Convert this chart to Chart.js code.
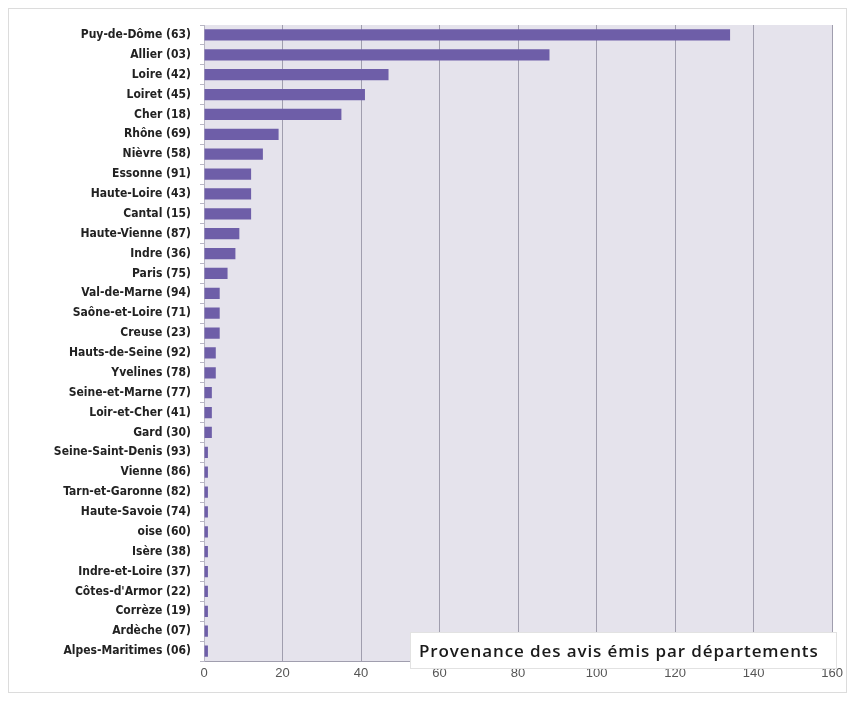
<!DOCTYPE html>
<html lang="fr">
<head>
  <meta charset="UTF-8" />
  <title>Provenance des avis émis par départements</title>
  <script src="https://cdn.jsdelivr.net/npm/chart.js"></script>
  <style>
    body { margin: 0; background: #fff; }
    #wrap { width: 848px; height: 704px; }
  </style>
</head>
<body>
  <div id="wrap"><canvas id="chart" width="848" height="704"></canvas></div>

  <script>
    const departements = [
      'Puy-de-Dôme (63)', 'Allier (03)', 'Loire (42)', 'Loiret (45)', 'Cher (18)',
      'Rhône (69)', 'Nièvre (58)', 'Essonne (91)', 'Haute-Loire (43)', 'Cantal (15)',
      'Haute-Vienne (87)', 'Indre (36)', 'Paris (75)', 'Val-de-Marne (94)', 'Saône-et-Loire (71)',
      'Creuse (23)', 'Hauts-de-Seine (92)', 'Yvelines (78)', 'Seine-et-Marne (77)', 'Loir-et-Cher (41)',
      'Gard (30)', 'Seine-Saint-Denis (93)', 'Vienne (86)', 'Tarn-et-Garonne (82)', 'Haute-Savoie (74)',
      'oise (60)', 'Isère (38)', 'Indre-et-Loire (37)', "Côtes-d'Armor (22)", 'Corrèze (19)',
      'Ardèche (07)', 'Alpes-Maritimes (06)'
    ];
    const avis = [
      134, 88, 47, 41, 35,
      19, 15, 12, 12, 12,
      9, 8, 6, 4, 4,
      4, 3, 3, 2, 2,
      2, 1, 1, 1, 1,
      1, 1, 1, 1, 1,
      1, 1
    ];
    const titre = 'Provenance des avis émis par départements';

    // plot background and outer frame
    const fondPlugin = {
      id: 'fond',
      beforeDraw(chart) {
        const { ctx, chartArea: a } = chart;
        ctx.save();
        ctx.strokeStyle = '#dcdcdc';
        ctx.lineWidth = 1;
        ctx.strokeRect(8.5, 8.5, 838, 684);
        ctx.fillStyle = '#e5e3ec';
        ctx.fillRect(a.left, a.top, a.right - a.left, a.bottom - a.top);
        ctx.restore();
      }
    };

    // white caption box sitting over the bottom right of the plot
    const titrePlugin = {
      id: 'titre',
      afterDraw(chart) {
        const { ctx } = chart;
        ctx.save();
        ctx.fillStyle = '#ffffff';
        ctx.fillRect(410, 632, 426, 36);
        ctx.strokeStyle = '#e2e2e2';
        ctx.strokeRect(410.5, 632.5, 426, 36);
        ctx.fillStyle = '#1a1a1a';
        ctx.font = '600 17px "Open Sans"';
        ctx.letterSpacing = '0.9px';
        ctx.textBaseline = 'middle';
        ctx.fillText(titre, 419, 652);
        ctx.restore();
      }
    };

    new Chart(document.getElementById('chart'), {
      type: 'bar',
      data: {
        labels: departements,
        datasets: [{
          data: avis,
          backgroundColor: '#6e5ea8',
          barPercentage: 0.56,
          categoryPercentage: 1
        }]
      },
      options: {
        indexAxis: 'y',
        responsive: false,
        animation: false,
        layout: { padding: { left: 0, right: 11, top: 25, bottom: 0 } },
        plugins: { legend: { display: false }, tooltip: { enabled: false } },
        scales: {
          x: {
            min: 0,
            max: 160,
            afterFit(scale) { scale.height = 43; },
            ticks: { stepSize: 20, color: '#555', font: { family: 'Liberation Sans', size: 13 }, padding: 5 },
            grid: { color: '#a09eae', lineWidth: 1, tickLength: 0 },
            border: { color: '#a09eae' }
          },
          y: {
            afterFit(scale) { scale.width = 204; },
            ticks: {
              color: '#222',
              autoSkip: false,
              padding: 9,
              font: { family: '"DejaVu Sans Condensed", "Liberation Sans"', weight: 'bold', size: 12 }
            },
            grid: { drawOnChartArea: false, tickLength: 4, color: '#b8b6c4' },
            border: { color: '#b8b6c4', dash: [2, 2] }
          }
        }
      },
      plugins: [fondPlugin, titrePlugin]
    });
  </script>
</body>
</html>
